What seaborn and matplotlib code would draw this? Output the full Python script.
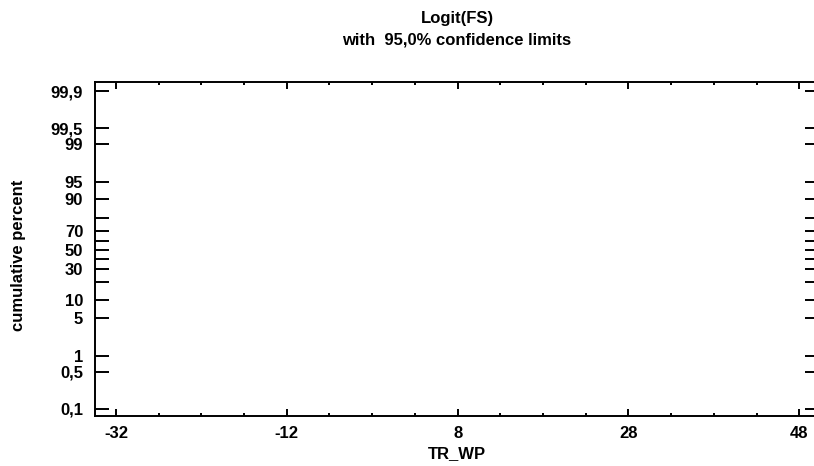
#empty logit probability plot of FS against TR_WP, 95% confidence limits
import matplotlib
matplotlib.use('Agg')
import matplotlib.pyplot as plt
import numpy as np
import seaborn as sns
from matplotlib.ticker import FixedLocator, NullLocator

sns.set_style('ticks')
plt.rcParams['font.family'] = ['Liberation Sans', 'DejaVu Sans']
plt.rcParams['font.weight'] = 'bold'
plt.rcParams['font.size'] = 12
for k in ['text.color', 'axes.labelcolor', 'xtick.color', 'ytick.color', 'axes.edgecolor']:
    plt.rcParams[k] = 'black'

x_major = [-32, -12, 8, 28, 48]
x_minor = [-32, -27, -22, -17, -12, -7, -2, 3, 8, 13, 18, 23, 28, 33, 38, 43, 48]
y_pct = [0.1, 0.5, 1, 5, 10, 20, 30, 40, 50, 60, 70, 80, 90, 95, 99, 99.5, 99.9]
y_lab = ['0,1', '0,5', '1', '5', '10', '', '30', '', '50', '', '70', '', '90', '95', '99', '99,5', '99,9']
x_range = (-34.45, 50.3)
y_range = (0.073, 99.933)

fig = plt.figure(figsize=(8.14, 4.66), dpi=100)
ax = fig.add_axes([95/814, 1-416/466, (819-95)/814, (416-82)/466])

ax.set_yscale('logit')
ax.set_xlim(*x_range)
ax.set_ylim(y_range[0]/100, y_range[1]/100)

ax.xaxis.set_major_locator(FixedLocator(x_major))
ax.xaxis.set_minor_locator(FixedLocator(x_minor))
ax.set_xticklabels([str(v) for v in x_major])
ax.yaxis.set_major_locator(FixedLocator(np.array(y_pct)/100))
ax.yaxis.set_minor_locator(NullLocator())
ax.set_yticklabels(y_lab)

ax.tick_params(axis='x', which='major', direction='in', length=5, width=1.4,
               top=True, bottom=True, pad=7.5)
ax.tick_params(axis='x', which='minor', direction='in', length=2.5, width=1.4,
               top=True, bottom=True)
ax.tick_params(axis='y', which='major', direction='in', length=10, width=1.4,
               left=True, right=True, pad=8.5)
for s in ax.spines.values():
    s.set_linewidth(1.4)

ax.set_xlabel('TR_WP', fontweight='bold', labelpad=3)
ax.set_ylabel('cumulative percent', fontweight='bold', va='center')
ax.yaxis.set_label_coords((18.5-95)/724, (416-255)/334)

fig.text(457/814, 1-19/466, 'Logit(FS)', ha='center', va='center', fontweight='bold')
fig.text(457/814, 1-40/466, 'with  95,0% confidence limits', ha='center', va='center',
         fontweight='bold')

plt.savefig('out.png', dpi=100)
